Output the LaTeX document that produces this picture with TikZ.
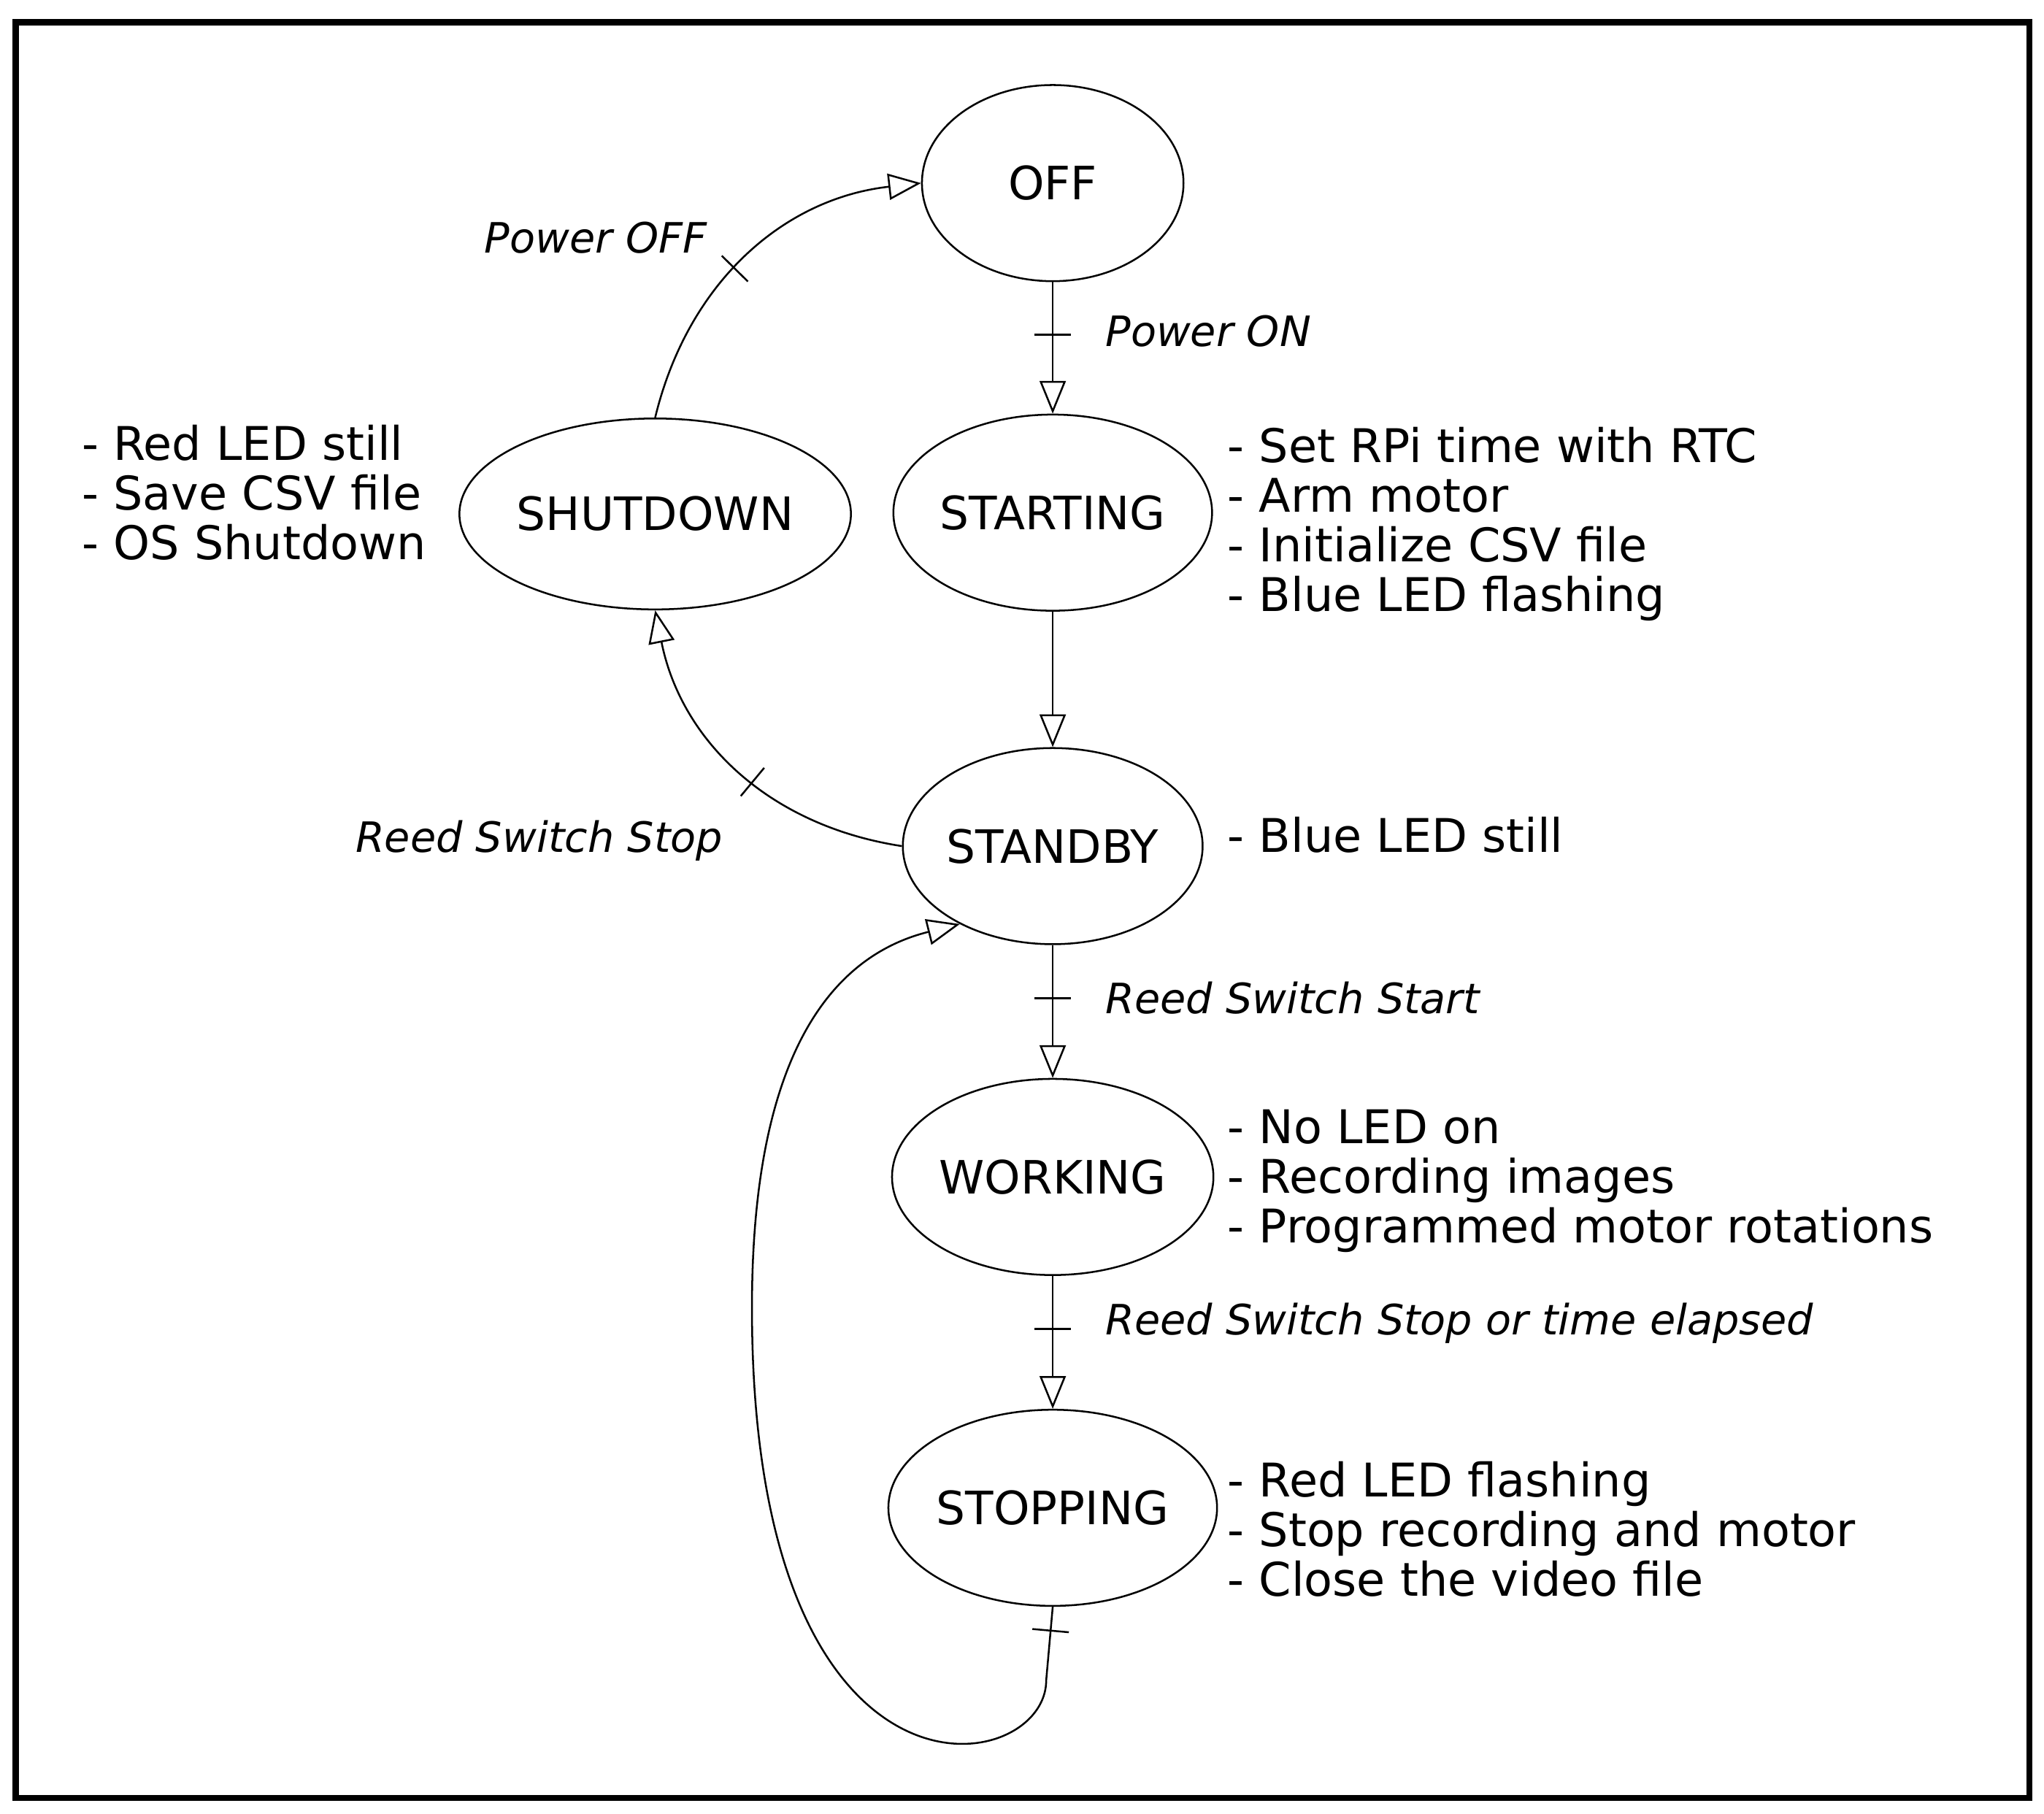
\documentclass[tikz,border=0pt]{standalone}
\usepackage{fontspec}
\setmainfont{DejaVu Sans}
\usetikzlibrary{arrows.meta,shapes.geometric,decorations.markings}
\begin{document}
\begin{tikzpicture}[
    state/.style={ellipse, draw, thin, minimum width=2.0cm, minimum height=1.5cm, inner sep=0pt, font=\fontsize{10}{12}\selectfont},
    arr/.style={draw, thin, -{Triangle[open,length=0.25cm,width=0.2cm]}},
    tick/.style={postaction=decorate, decoration={markings, mark=at position #1 with {\draw[-] (0,-0.14)--(0,0.14);}}},
    lbl/.style={font=\fontsize{9.1}{11}\selectfont\itshape},
    notes/.style={align=left, anchor=north west, inner sep=0pt, font=\fontsize{10.1}{10.8}\selectfont}
  ]
  \useasboundingbox (0,0) rectangle (15.63,-13.87);
  \draw[line width=1.3pt] (0.12,-0.17) rectangle (15.52,-13.75);

  % states
  \node[state] (off)  at (8.05,-1.40) {OFF};
  \node[state] (start) at (8.05,-3.92) {STARTING};
  \node[state] (stby) at (8.05,-6.47) {STANDBY};
  \node[state] (work) at (8.05,-9.00) {WORKING};
  \node[state] (stop) at (8.05,-11.53) {STOPPING};
  \node[state, minimum width=2.28cm, minimum height=1.46cm] (shut) at (5.01,-3.93) {SHUTDOWN};

  % transitions
  \draw[arr, tick=0.4] (off) -- (start);
  \draw[arr] (start) -- (stby);
  \draw[arr, tick=0.4] (stby) -- (work);
  \draw[arr, tick=0.4] (work) -- (stop);
  \draw[arr, tick=0.45] (shut.north) to[bend left=35] (off.west);
  \draw[arr, tick=0.45] (stby.west) to[bend left=35] (shut.south);
  \draw[arr, tick=0.02] (stop.south) -- (8.0,-12.85) .. controls (8.0,-13.6) and (5.75,-14.0) .. (5.75,-10.0)
        .. controls (5.75,-8.0) and (6.4,-7.3) .. (stby.220);

  % transition labels
  \node[lbl, anchor=west] (lon) at (8.33,-2.53) {Power ON};
  \node[lbl, anchor=west] (lstart) at (8.33,-7.63) {Reed Switch Start};
  \node[lbl, anchor=west] (lel) at (8.33,-10.12) {Reed Switch Stop or time elapsed};
  \node[lbl, anchor=east] (loff) at (5.53,-1.82) {Power OFF};
  \node[lbl, anchor=east] (lrs) at (5.65,-6.43) {Reed Switch Stop};

  % state notes
  \node[notes] (nshut) at (0.62,-3.24) {- Red LED still\\- Save CSV file\\- OS Shutdown};
  \node[notes] (nstart) at (9.38,-3.26) {- Set RPi time with RTC\\- Arm motor\\- Initialize CSV file\\- Blue LED flashing};
  \node[notes] (nstby) at (9.38,-6.24) {- Blue LED still};
  \node[notes] (nwork) at (9.38,-8.48) {- No LED on\\- Recording images\\- Programmed motor rotations};
  \node[notes] (nstop) at (9.38,-11.17) {- Red LED flashing\\- Stop recording and motor\\- Close the video file};
\end{tikzpicture}
\end{document}
